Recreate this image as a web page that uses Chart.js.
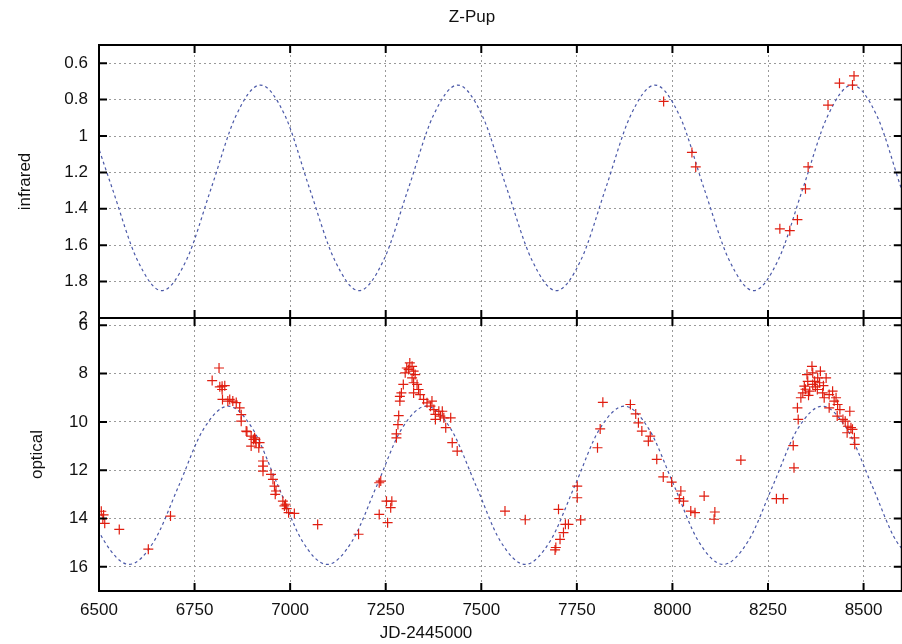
<!DOCTYPE html>
<html>
<head>
<meta charset="utf-8">
<style>
  html, body { margin: 0; padding: 0; background: #fff; overflow: hidden; }
  #wrap { width: 908px; height: 644px; }
</style>
</head>
<body>
<script src="https://cdn.jsdelivr.net/npm/chart.js"></script>
<div id="wrap"><canvas id="zpup" width="908" height="644"></canvas></div>

<script>
// tick labels
const jdTicks = [6500, 6750, 7000, 7250, 7500, 7750, 8000, 8250, 8500];
const irTicks = [0.6, 0.8, 1, 1.2, 1.4, 1.6, 1.8, 2];
const optTicks = [6, 8, 10, 12, 14, 16];

// model light curves (dashed lines), read about every 1/8 cycle
const irCurveJD = [6471, 6535, 6600, 6664, 6729, 6793, 6858, 6922, 6987, 7051, 7116, 7180,
  7245, 7309, 7374, 7438, 7503, 7567, 7632, 7696, 7761, 7825, 7890, 7954,
  8019, 8083, 8148, 8212, 8277, 8341, 8406, 8470, 8535, 8599, 8664];
const irCurveMag = [0.89, 1.29, 1.68, 1.85, 1.68, 1.29, 0.89, 0.72,
  0.89, 1.29, 1.68, 1.85, 1.68, 1.29, 0.89, 0.72,
  0.89, 1.29, 1.68, 1.85, 1.68, 1.29, 0.89, 0.72,
  0.89, 1.29, 1.68, 1.85, 1.68, 1.29, 0.89, 0.72,
  0.89, 1.29, 1.68];

const optCurveJD = [6450, 6514, 6579, 6644, 6709, 6773, 6838, 6903, 6968, 7032, 7097, 7162,
  7227, 7291, 7356, 7421, 7486, 7550, 7615, 7680, 7745, 7809, 7874, 7939,
  8004, 8068, 8133, 8198, 8263, 8327, 8392, 8457, 8522, 8586, 8651];
const optCurveMag = [12.63, 14.94, 15.9, 14.94, 12.63, 10.31, 9.35, 10.31,
  12.63, 14.94, 15.9, 14.94, 12.63, 10.31, 9.35, 10.31,
  12.63, 14.94, 15.9, 14.94, 12.63, 10.31, 9.35, 10.31,
  12.63, 14.94, 15.9, 14.94, 12.63, 10.31, 9.35, 10.31,
  12.63, 14.94, 15.9];

// observations (red crosses)
const irObsJD = [7977, 8051, 8061, 8281, 8307, 8327, 8348, 8355, 8407, 8437, 8471, 8475];
const irObsMag = [0.81, 1.09, 1.17, 1.51, 1.52, 1.46, 1.29, 1.17, 0.83, 0.71, 0.72, 0.67];

const optObsJD = [
  6506, 6510, 6515, 6512, 6553, 6629, 6687,
  6796, 6814, 6816, 6822, 6829, 6822, 6823, 6837, 6842, 6850, 6859, 6868, 6872, 6872,
  6885, 6887, 6898, 6904, 6909, 6907, 6911, 6898, 6918, 6920, 6929, 6929, 6929,
  6950, 6955, 6959, 6963, 6961, 6981, 6985, 6988, 6991, 6996, 7011, 7072, 7179,
  7233, 7237, 7233, 7252, 7266, 7263, 7255, 7278, 7278, 7282, 7284, 7287, 7287, 7291,
  7296, 7301, 7305, 7313, 7310, 7319, 7323, 7327, 7319, 7323, 7332, 7323, 7336, 7340,
  7349, 7358, 7367, 7371, 7376, 7380, 7389, 7393, 7398, 7380, 7402, 7420, 7407, 7424, 7437,
  7562, 7615, 7702, 7720, 7728, 7715, 7706, 7695, 7693, 7751, 7751, 7760, 7804, 7811, 7818,
  7890, 7904, 7911, 7920, 7942, 7937, 7959, 7976, 7998, 8022, 8018, 8029, 8083, 8048,
  8059, 8111, 8109, 8179,
  8272, 8290, 8318, 8316, 8329, 8327, 8336, 8341, 8345, 8352, 8354, 8365, 8367, 8359,
  8367, 8372, 8379, 8385, 8387, 8380, 8393, 8402, 8397, 8410, 8410, 8419, 8423, 8428,
  8432, 8431, 8438, 8446, 8452, 8459, 8464, 8457, 8467, 8471, 8476, 8477,
  8348, 8356, 8374, 8395];
const optObsMag = [
  13.7, 14.0, 14.2, 13.85, 14.45, 15.27, 13.9,
  8.29, 7.77, 8.55, 8.52, 8.5, 8.66, 9.07, 9.14, 9.07, 9.14, 9.2, 9.42, 9.7, 9.97,
  10.38, 10.4, 10.59, 10.73, 10.73, 10.66, 10.86, 11.0, 11.07, 10.86, 11.62, 11.83, 12.04,
  12.17, 12.38, 12.66, 12.86, 13.0, 13.28, 13.48, 13.41, 13.59, 13.76, 13.79, 14.25, 14.65,
  13.83, 12.45, 12.52, 13.28, 13.28, 13.55, 14.17, 10.66, 10.5, 10.11, 9.74, 9.14, 8.94, 8.8,
  8.45, 7.97, 7.77, 7.56, 7.83, 7.7, 7.9, 8.04, 8.18, 8.38, 8.45, 8.8, 8.66, 8.87,
  9.07, 9.21, 9.35, 9.14, 9.49, 9.69, 9.56, 9.76, 9.56, 9.9, 9.83, 9.83, 10.24, 10.86, 11.21,
  13.69, 14.05, 13.62, 14.24, 14.24, 14.58, 14.86, 15.2, 15.3, 12.66, 13.14, 14.06, 11.07, 10.29, 9.19,
  9.28, 9.67, 10.04, 10.38, 10.59, 10.8, 11.55, 12.28, 12.49, 12.86, 13.18, 13.28, 13.07, 13.69,
  13.76, 13.73, 14.03, 11.58,
  13.18, 13.18, 11.9, 10.98, 9.9, 9.42, 9.0, 8.8, 8.52, 8.04, 8.32, 7.7, 7.97, 8.73,
  8.45, 8.32, 8.66, 8.38, 7.9, 8.18, 8.8, 8.18, 9.0, 8.87, 9.42, 8.73, 9.14, 9.0,
  9.28, 9.76, 9.49, 9.9, 9.97, 10.18, 9.56, 10.45, 10.24, 10.31, 10.66, 10.93,
  8.65, 8.9, 8.55, 8.5];

function pairs(xs, ys) {
  return xs.map((x, i) => ({x: x, y: ys[i]}));
}

Chart.defaults.font.family = "'Liberation Sans', Arial, sans-serif";
Chart.defaults.font.size = 17;
Chart.defaults.color = '#111';

const gridColor = '#9a9a9a';
const curveColor = '#4a58a8';
const obsColor = '#e01e10';

function setTicks(list) {
  return function(scale) {
    scale.ticks = list.map(v => ({value: v}));
  };
}

// black frames, inward tick marks and free-standing labels (gnuplot look)
const framePlugin = {
  id: 'frame',
  afterDraw(chart) {
    const {ctx, chartArea: a, scales} = chart;
    ctx.save();
    ctx.strokeStyle = '#000';
    ctx.lineWidth = 2;
    [scales.yIR, scales.yOpt].forEach(ys => {
      ctx.strokeRect(a.left, ys.top, a.right - a.left, ys.bottom - ys.top);
      ctx.beginPath();
      scales.x.ticks.forEach(t => {
        const px = scales.x.getPixelForValue(t.value);
        ctx.moveTo(px, ys.top); ctx.lineTo(px, ys.top + 8);
        ctx.moveTo(px, ys.bottom); ctx.lineTo(px, ys.bottom - 8);
      });
      ys.ticks.forEach(t => {
        const py = ys.getPixelForValue(t.value);
        ctx.moveTo(a.left, py); ctx.lineTo(a.left + 8, py);
        ctx.moveTo(a.right, py); ctx.lineTo(a.right - 8, py);
      });
      ctx.stroke();
    });
    ctx.fillStyle = '#111';
    ctx.font = "17px 'Liberation Sans', Arial, sans-serif";
    ctx.textAlign = 'center';
    ctx.textBaseline = 'middle';
    ctx.fillText('Z-Pup', 472, 17);
    ctx.fillText('JD-2445000', 426, 633);
    ctx.restore();
  }
};

const config = {
  type: 'scatter',
  data: {
    datasets: [{
      label: 'infrared obs',
      data: pairs(irObsJD, irObsMag),
      yAxisID: 'yIR',
      pointStyle: 'cross',
      pointRadius: 5,
      pointBorderWidth: 1.2,
      borderColor: obsColor,
      backgroundColor: obsColor,
      order: 0
    }, {
      label: 'optical obs',
      data: pairs(optObsJD, optObsMag),
      yAxisID: 'yOpt',
      pointStyle: 'cross',
      pointRadius: 5,
      pointBorderWidth: 1.2,
      borderColor: obsColor,
      backgroundColor: obsColor,
      order: 0
    }, {
      label: 'infrared model',
      data: pairs(irCurveJD, irCurveMag),
      yAxisID: 'yIR',
      showLine: true,
      pointRadius: 0,
      borderColor: curveColor,
      borderWidth: 1.2,
      borderDash: [3, 3],
      cubicInterpolationMode: 'monotone',
      order: 1
    }, {
      label: 'optical model',
      data: pairs(optCurveJD, optCurveMag),
      yAxisID: 'yOpt',
      showLine: true,
      pointRadius: 0,
      borderColor: curveColor,
      borderWidth: 1.2,
      borderDash: [3, 3],
      cubicInterpolationMode: 'monotone',
      order: 1
    }]
  },
  options: {
    responsive: false,
    animation: false,
    devicePixelRatio: 1,
    layout: { padding: { top: 45, right: 4, left: 0, bottom: 0 } },
    plugins: {
      legend: { display: false },
      tooltip: { enabled: false },
      title: { display: false }
    },
    scales: {
      x: {
        type: 'linear',
        min: 6500,
        max: 8600,
        afterBuildTicks: setTicks(jdTicks),
        afterFit: s => { s.height = 53; },
        grid: { color: gridColor, lineWidth: 1, drawTicks: false },
        border: { display: false, dash: [2, 3] },
        ticks: { padding: 9, autoSkip: false, maxRotation: 0, callback: v => String(v) }
      },
      // the stack puts the later axis on top, so the optical panel comes first
      yOpt: {
        type: 'linear',
        position: 'left',
        stack: 'panels',
        stackWeight: 1,
        reverse: true,
        min: 5.7,
        max: 17,
        afterBuildTicks: setTicks(optTicks),
        afterFit: s => { s.width = 99; },
        grid: { color: gridColor, lineWidth: 1, drawTicks: false },
        border: { display: false, dash: [2, 3] },
        ticks: { padding: 11, autoSkip: false, callback: v => String(v) },
        title: { display: true, text: 'optical', padding: { top: 27, bottom: 0 } }
      },
      yIR: {
        type: 'linear',
        position: 'left',
        stack: 'panels',
        stackWeight: 1,
        reverse: true,
        min: 0.5,
        max: 2,
        afterBuildTicks: setTicks(irTicks),
        afterFit: s => { s.width = 99; },
        grid: { color: gridColor, lineWidth: 1, drawTicks: false },
        border: { display: false, dash: [2, 3] },
        ticks: { padding: 11, autoSkip: false, callback: v => String(v) },
        title: { display: true, text: 'infrared', padding: { top: 15, bottom: 0 } }
      }
    }
  },
  plugins: [framePlugin]
};

const zpupChart = new Chart(document.getElementById('zpup'), config);
</script>
</body>
</html>
